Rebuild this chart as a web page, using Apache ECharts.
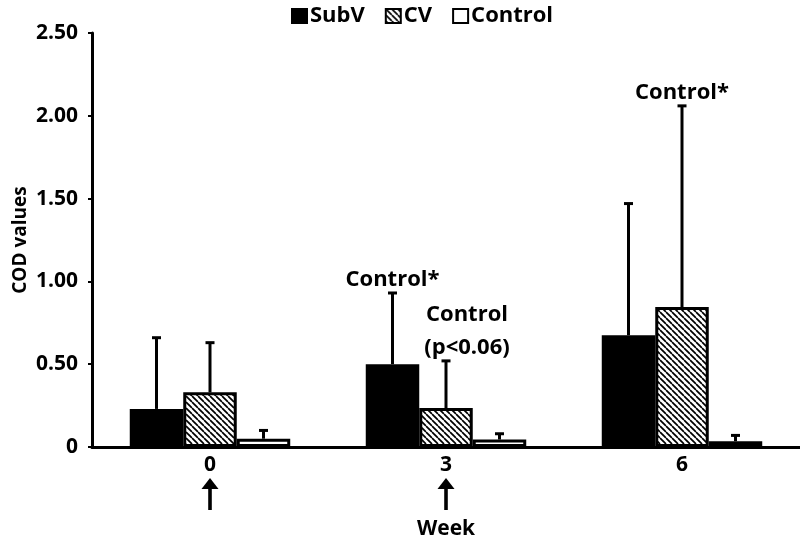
<!DOCTYPE html>
<html>
<head>
<meta charset="utf-8">
<script src="https://cdn.jsdelivr.net/npm/echarts@6/dist/echarts.min.js"></script>
<style>html,body{margin:0;padding:0;background:#fff}#c{width:800px;height:539px}</style>
</head>
<body>
<div id="c"></div>
<script>
// ---- data ----
const weeks = ['0', '3', '6'];
const seriesNames = ['SubV', 'CV', 'Control'];
const subvMean = [0.23, 0.50, 0.675];
const subvErr = [0.43, 0.43, 0.795];
const cvMean = [0.33, 0.235, 0.845];
const cvErr = [0.30, 0.285, 1.215];
const controlMean = [0.05, 0.045, 0.035];
const controlErr = [0.05, 0.035, 0.035];
const yTickLabels = ['0', '0.50', '1.00', '1.50', '2.00', '2.50'];
const arrowWeeks = ['0', '3'];
const annotations = [
  { week: '3', series: 'SubV', text: 'Control*' },
  { week: '3', series: 'CV', text: 'Control\n(p<0.06)' },
  { week: '6', series: 'CV', text: 'Control*' }
];

// ---- styles ----
const FONT = '"Open Sans", "Noto Sans", sans-serif';
const annotShift = { '3|CV': 21 };
const catGap = 0.32;

function hatch() {
  const s = 6;
  const c = document.createElement('canvas');
  c.width = s; c.height = s;
  const g = c.getContext('2d');
  g.fillStyle = '#fff'; g.fillRect(0, 0, s, s);
  g.strokeStyle = '#000'; g.lineWidth = 1.7;
  for (let k = -1; k <= 1; k++) {
    g.beginPath(); g.moveTo(k * s, 0); g.lineTo(k * s + s, s); g.stroke();
  }
  return c;
}

const means = [subvMean, cvMean, controlMean];
const errs = [subvErr, cvErr, controlErr];
const fills = ['#000', { image: hatch(), repeat: 'repeat' }, '#fff'];

const barSeries = seriesNames.map((n, i) => ({
  name: n, type: 'bar', data: means[i],
  barGap: '0%', barCategoryGap: (catGap * 100) + '%',
  itemStyle: { color: fills[i], borderColor: '#000', borderWidth: 3 },
  z: 2
}));

function barX(api, cat, sIdx) {
  const band = api.size([1, 0])[0];
  const bw = band * (1 - catGap) / seriesNames.length;
  const c = api.coord([cat, 0]);
  return c[0] + (sIdx - (seriesNames.length - 1) / 2) * bw;
}

const errData = [];
seriesNames.forEach((n, s) => weeks.forEach((w, c) => errData.push([c, means[s][c], means[s][c] + errs[s][c], s])));

const errSeries = {
  type: 'custom', name: 'err', z: 3, clip: false, silent: true,
  renderItem(params, api) {
    const cat = api.value(0), s = api.value(3);
    const x = barX(api, cat, s);
    const y1 = api.coord([cat, api.value(1)])[1];
    const y2 = api.coord([cat, api.value(2)])[1];
    return { type: 'group', children: [
      { type: 'line', shape: { x1: x, y1: y1, x2: x, y2: y2 }, style: { stroke: '#000', lineWidth: 3 } },
      { type: 'line', shape: { x1: x - 4.5, y1: y2, x2: x + 4.5, y2: y2 }, style: { stroke: '#000', lineWidth: 3 } }
    ]};
  },
  data: errData
};

const annData = annotations.map((a, i) => {
  const c = weeks.indexOf(a.week), s = seriesNames.indexOf(a.series);
  return [c, means[s][c] + errs[s][c], s, i];
});
const annSeries = {
  type: 'custom', name: 'ann', z: 4, clip: false, silent: true,
  renderItem(params, api) {
    const cat = api.value(0), s = api.value(2), a = annotations[api.value(3)];
    const x = barX(api, cat, s) + (annotShift[a.week + '|' + a.series] || 0);
    const y = api.coord([cat, api.value(1)])[1];
    return { type: 'text', style: {
      text: a.text, x: x, y: y + 3, align: 'center', verticalAlign: 'bottom',
      fontSize: 22, fontWeight: 'bold', fontFamily: FONT, fill: '#000', lineHeight: 33
    }};
  },
  data: annData
};

const arrowSeries = {
  type: 'custom', name: 'arrows', z: 4, clip: false, silent: true,
  renderItem(params, api) {
    const cat = api.value(0);
    const p = api.coord([cat, 0]);
    const x = p[0], y = p[1];
    return { type: 'group', children: [
      { type: 'polygon', shape: { points: [[x, y + 31], [x - 8.5, y + 42], [x + 8.5, y + 42]] }, style: { fill: '#000' } },
      { type: 'rect', shape: { x: x - 1.8, y: y + 40, width: 3.6, height: 23 }, style: { fill: '#000' } }
    ]};
  },
  data: arrowWeeks.map(w => [weeks.indexOf(w)])
};

const chart = echarts.init(document.getElementById('c'), null, { renderer: 'canvas' });
chart.setOption({
  animation: false,
  backgroundColor: '#fff',
  legend: {
    data: seriesNames, left: 286, top: 0, itemGap: 20, itemWidth: 15, itemHeight: 14,
    icon: 'rect', selectedMode: false,
    textStyle: { fontSize: 22, fontWeight: 'bold', fontFamily: FONT, color: '#000', padding: [0, 0, 0, -2] },
    itemStyle: { borderColor: '#000', borderWidth: 2 }
  },
  grid: { left: 92, right: 0, top: 33, bottom: 92, containLabel: false, outerBoundsMode: 'none' },
  xAxis: {
    type: 'category', data: weeks, name: 'Week', nameLocation: 'middle', nameGap: 72,
    nameTextStyle: { fontSize: 21, fontWeight: 'bold', fontFamily: FONT, color: '#000' },
    axisLine: { lineStyle: { color: '#000', width: 3 } },
    axisTick: { show: false },
    axisLabel: { fontSize: 21, fontWeight: 'bold', fontFamily: FONT, color: '#000', margin: 8 }
  },
  yAxis: {
    type: 'value', min: 0, max: 2.5, interval: 0.5,
    name: 'COD values', nameLocation: 'middle', nameGap: 62, nameRotate: 90, nameMoveOverlap: false,
    nameTextStyle: { fontSize: 19, fontWeight: 'bold', fontFamily: FONT, color: '#000' },
    axisLine: { show: true, lineStyle: { color: '#000', width: 3 } },
    axisTick: { show: true, length: 4, lineStyle: { color: '#000', width: 2 } },
    splitLine: { show: false },
    axisLabel: { fontSize: 21, fontWeight: 'bold', fontFamily: FONT, color: '#000', margin: 14,
      formatter: v => yTickLabels[Math.round(v / 0.5)] }
  },
  series: [...barSeries, errSeries, annSeries, arrowSeries]
});
</script>
</body>
</html>
